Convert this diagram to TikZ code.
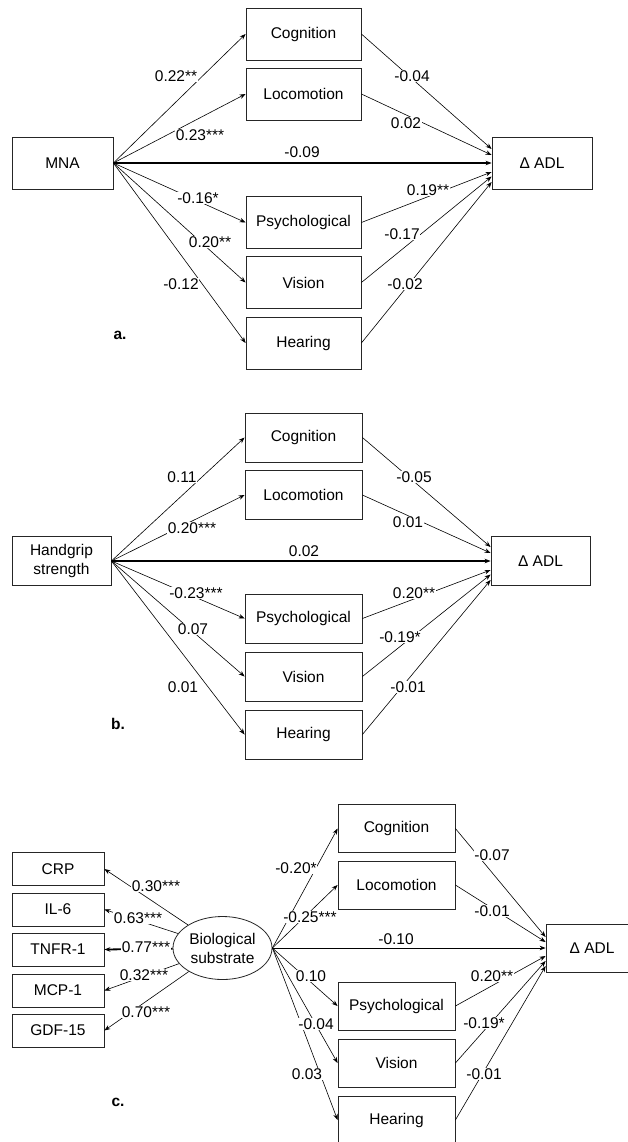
\documentclass[tikz,border=0pt]{standalone}
\usepackage{fontspec}
\setmainfont{Liberation Sans}
\usetikzlibrary{arrows.meta,shapes.geometric}
\newcommand\myfs{\fontsize{15.5}{19}\selectfont}
\begin{document}
\begin{tikzpicture}[x=1pt,y=-1pt,
  box/.style={draw=black!85, line width=0.8pt, inner sep=0pt, font=\myfs, align=center},
  arr/.style={-{Stealth[length=6pt,width=4.5pt]}, line width=0.6pt},
  thickarr/.style={arr, line width=1.8pt},
  lbl/.style={fill=white, inner sep=0.8pt, font=\myfs},
  lbln/.style={inner sep=0.8pt, font=\myfs},
  plbl/.style={font=\myfs\bfseries, inner sep=0pt}]
\useasboundingbox (0,0) rectangle (628,1142);
\fill[white] (0,0) rectangle (628,1142);

% ---------------- Panel a ----------------
\node[box, minimum width=101, minimum height=52] (mnaA) at (62.5,163) {MNA};
\node[box, minimum width=100, minimum height=52] (adlA) at (542,163) {Δ ADL};
\node[box, minimum width=115, minimum height=52] (cogA) at (303.5,34) {Cognition};
\node[box, minimum width=115, minimum height=52] (locA) at (303.5,94) {Locomotion};
\node[box, minimum width=115, minimum height=52] (psyA) at (303.5,222.5) {Psychological};
\node[box, minimum width=115, minimum height=52] (visA) at (303.5,282.5) {Vision};
\node[box, minimum width=115, minimum height=52] (heaA) at (303.5,343) {Hearing};
\draw[arr] (mnaA.east) -- (cogA.west);
\draw[arr] (mnaA.east) -- (locA.west);
\draw[arr] (mnaA.east) -- (psyA.west);
\draw[arr] (mnaA.east) -- (visA.west);
\draw[arr] (mnaA.east) -- (heaA.west);
\draw[thickarr] (mnaA.east) -- (adlA.west);
\draw[arr] (cogA.east) -- ([yshift=14pt]adlA.west);
\draw[arr] (locA.east) -- ([yshift=8pt]adlA.west);
\draw[arr] (psyA.east) -- ([yshift=-9pt]adlA.west);
\draw[arr] (visA.east) -- ([yshift=-13.5pt]adlA.west);
\draw[arr] (heaA.east) -- ([yshift=-19pt]adlA.west);
\node[lbl] (la1) at (176,76) {0.22**};
\node[lbl] (la2) at (200,135) {0.23***};
\node[lbln] (la3) at (302,152) {-0.09};
\node[lbl] (la4) at (198,198) {-0.16*};
\node[lbl] (la5) at (210,242) {0.20**};
\node[lbl] (la6) at (181,284) {-0.12};
\node[lbl] (la7) at (412,76) {-0.04};
\node[lbl] (la8) at (406,123) {0.02};
\node[lbl] (la9) at (428,190) {0.19**};
\node[lbl] (la10) at (402,234) {-0.17};
\node[lbl] (la11) at (405,284) {-0.02};
\node[plbl] (pa) at (120,335) {a.};

% ---------------- Panel b ----------------
\node[box, minimum width=99, minimum height=49] (hgB) at (61.5,561) {Handgrip\\strength};
\node[box, minimum width=99, minimum height=49] (adlB) at (540.5,561) {Δ ADL};
\node[box, minimum width=117, minimum height=49] (cogB) at (303.5,437.5) {Cognition};
\node[box, minimum width=117, minimum height=49] (locB) at (303.5,495) {Locomotion};
\node[box, minimum width=117, minimum height=49] (psyB) at (303.5,618.5) {Psychological};
\node[box, minimum width=117, minimum height=49] (visB) at (303.5,676.5) {Vision};
\node[box, minimum width=117, minimum height=49] (heaB) at (303.5,734.5) {Hearing};
\draw[arr] (hgB.east) -- (cogB.west);
\draw[arr] (hgB.east) -- (locB.west);
\draw[arr] (hgB.east) -- (psyB.west);
\draw[arr] (hgB.east) -- (visB.west);
\draw[arr] (hgB.east) -- (heaB.west);
\draw[thickarr] (hgB.east) -- (adlB.west);
\draw[arr] (cogB.east) -- ([yshift=14pt]adlB.west);
\draw[arr] (locB.east) -- ([yshift=8pt]adlB.west);
\draw[arr] (psyB.east) -- ([yshift=-9pt]adlB.west);
\draw[arr] (visB.east) -- ([yshift=-13.5pt]adlB.west);
\draw[arr] (heaB.east) -- ([yshift=-19pt]adlB.west);
\node[lbl] (lb1) at (182,477) {0.11};
\node[lbl] (lb2) at (192,528) {0.20***};
\node[lbln] (lb3) at (304,551) {0.02};
\node[lbl] (lb4) at (196,593) {-0.23***};
\node[lbl] (lb5) at (193,629) {0.07};
\node[lbl] (lb6) at (183,687) {0.01};
\node[lbl] (lb7) at (414,477) {-0.05};
\node[lbl] (lb8) at (408,522) {0.01};
\node[lbl] (lb9) at (414,593) {0.20**};
\node[lbl] (lb10) at (400,637) {-0.19*};
\node[lbl] (lb11) at (408,687) {-0.01};
\node[plbl] (pb) at (118,724) {b.};

% ---------------- Panel c ----------------
\node[box, minimum width=92, minimum height=33] (crp) at (58,869) {CRP};
\node[box, minimum width=92, minimum height=33] (il6) at (58,909.5) {IL-6};
\node[box, minimum width=92, minimum height=33] (tnfr) at (58,949.5) {TNFR-1};
\node[box, minimum width=92, minimum height=33] (mcp) at (58,990.5) {MCP-1};
\node[box, minimum width=92, minimum height=33] (gdf) at (58,1030.5) {GDF-15};
\node[box, ellipse, minimum width=99, minimum height=63] (bio) at (222.5,948) {Biological\\substrate};
\node[box, minimum width=92, minimum height=48] (adlC) at (592,948) {Δ ADL};
\node[box, minimum width=117, minimum height=48] (cogC) at (396.5,828.5) {Cognition};
\node[box, minimum width=117, minimum height=48] (locC) at (396.5,885) {Locomotion};
\node[box, minimum width=117, minimum height=48] (psyC) at (396.5,1006) {Psychological};
\node[box, minimum width=117, minimum height=48] (visC) at (396.5,1063) {Vision};
\node[box, minimum width=117, minimum height=48] (heaC) at (396.5,1120) {Hearing};
\draw[arr] (bio) -- (crp.east);
\draw[arr] (bio) -- (il6.east);
\draw[thickarr] (bio) -- (tnfr.east);
\draw[arr] (bio) -- (mcp.east);
\draw[arr] (bio) -- (gdf.east);
\draw[arr] (bio.east) -- (cogC.west);
\draw[arr] (bio.east) -- (locC.west);
\draw[arr] (bio.east) -- (psyC.west);
\draw[arr] (bio.east) -- (visC.west);
\draw[arr] (bio.east) -- (heaC.west);
\draw[arr, line width=0.8pt] (bio.east) -- (adlC.west);
\draw[arr] (cogC.east) -- ([yshift=11pt]adlC.west);
\draw[arr] (locC.east) -- ([yshift=6pt]adlC.west);
\draw[arr] (psyC.east) -- ([yshift=-8pt]adlC.west);
\draw[arr] (visC.east) -- ([yshift=-13pt]adlC.west);
\draw[arr] (heaC.east) -- ([yshift=-18pt]adlC.west);
\node[lbl] (lc1) at (156,886) {0.30***};
\node[lbl] (lc2) at (138,918) {0.63***};
\node[lbl] (lc3) at (146,947) {0.77***};
\node[lbl] (lc4) at (144,975) {0.32***};
\node[lbl] (lc5) at (146,1012) {0.70***};
\node[lbl] (lc6) at (296,868) {-0.20*};
\node[lbl] (lc7) at (310,917) {-0.25***};
\node[lbln] (lc8) at (396,939) {-0.10};
\node[lbl] (lc9) at (311,976) {0.10};
\node[lbl] (lc10) at (316,1024) {-0.04};
\node[lbl] (lc11) at (307,1074) {0.03};
\node[lbl] (lc12) at (492,855) {-0.07};
\node[lbl] (lc13) at (492,911) {-0.01};
\node[lbl] (lc14) at (492,976) {0.20**};
\node[lbl] (lc15) at (484,1023) {-0.19*};
\node[lbl] (lc16) at (484,1074) {-0.01};
\node[plbl] (pc) at (118,1102) {c.};
\end{tikzpicture}
\end{document}
